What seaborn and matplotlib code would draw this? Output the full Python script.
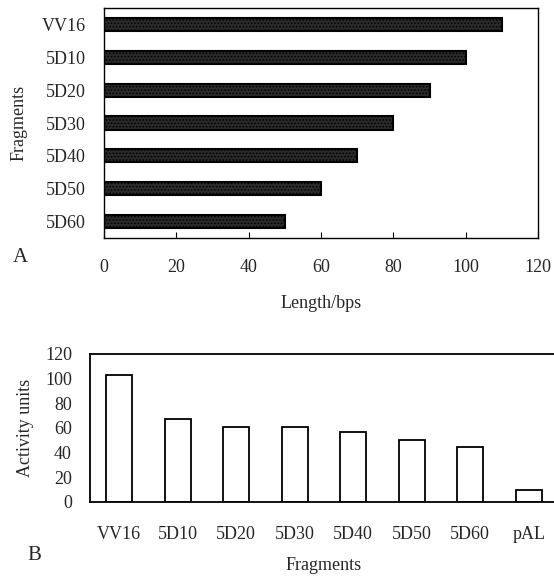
import matplotlib
matplotlib.use("Agg")
import matplotlib.pyplot as plt
import seaborn as sns
import pandas as pd

# Panel A data
frag_a = ["VV16", "5D10", "5D20", "5D30", "5D40", "5D50", "5D60"]
length_bps = [110, 100, 90, 80, 70, 60, 50]
xticks_a = [0, 20, 40, 60, 80, 100, 120]

# Panel B data
frag_b = ["VV16", "5D10", "5D20", "5D30", "5D40", "5D50", "5D60", "pAL"]
activity = [103, 67, 61, 61, 57, 50, 45, 9.5]
yticks_b = [0, 20, 40, 60, 80, 100, 120]

sns.set_theme(style="white")
plt.rcParams["font.family"] = ["Liberation Serif", "DejaVu Serif"]
plt.rcParams["hatch.color"] = "#c4c4c4"
plt.rcParams["hatch.linewidth"] = 0.7

FS = 13
W, H = 554, 579
fig = plt.figure(figsize=(W / 100, H / 100), dpi=100)

def box(l, t, r, b):
    return [l / W, 1 - b / H, (r - l) / W, (b - t) / H]

# ---------- Panel A ----------
axA = fig.add_axes(box(104, 8, 538, 238))
dfA = pd.DataFrame({"Fragments": frag_a, "Length": length_bps})
sns.barplot(data=dfA, x="Length", y="Fragments", orient="h", ax=axA,
            color="#2a2a2a", width=0.4, edgecolor="black", linewidth=1.5,
            saturation=1)
for p in axA.patches:
    p.set_hatch(".....")
axA.set_xlim(0, 120)
axA.set_ylim(6.5, -0.5)
axA.set_xticks(xticks_a)
axA.set_xticklabels([str(v) for v in xticks_a])
axA.tick_params(axis="x", direction="in", length=4, width=0.8, pad=15,
                labelsize=FS, bottom=True, color="black")
axA.tick_params(axis="y", length=0, pad=13, labelsize=FS)
axA.set_xlabel("Length/bps", fontsize=FS, labelpad=14)
axA.set_ylabel("Fragments", fontsize=FS, labelpad=10)
for s in axA.spines.values():
    s.set_visible(True)
    s.set_color("black")
    s.set_linewidth(1.0)
fig.text(13 / W, 1 - 258 / H, "A", fontsize=15, ha="left", va="center")

# ---------- Panel B ----------
axB = fig.add_axes(box(90, 354, 558, 502))
dfB = pd.DataFrame({"Fragments": frag_b, "Activity": activity})
sns.barplot(data=dfB, x="Fragments", y="Activity", ax=axB,
            color="white", width=0.44, edgecolor="black", linewidth=1.3,
            saturation=1)
axB.set_ylim(0, 120)
axB.set_xlim(-0.5, 7.5)
axB.set_yticks(yticks_b)
axB.set_yticklabels([str(v) for v in yticks_b])
axB.tick_params(axis="y", length=0, pad=13, labelsize=FS)
axB.tick_params(axis="x", length=0, pad=17, labelsize=FS)
axB.set_xlabel("Fragments", fontsize=FS, labelpad=10)
axB.set_ylabel("Activity units", fontsize=FS, labelpad=8)
for k in ["left", "top", "bottom"]:
    axB.spines[k].set_visible(True)
    axB.spines[k].set_color("black")
    axB.spines[k].set_linewidth(1.3)
axB.spines["right"].set_visible(False)
fig.text(27 / W, 1 - 555 / H, "B", fontsize=15, ha="left", va="center")

fig.savefig("out.png", dpi=100, facecolor="white")
